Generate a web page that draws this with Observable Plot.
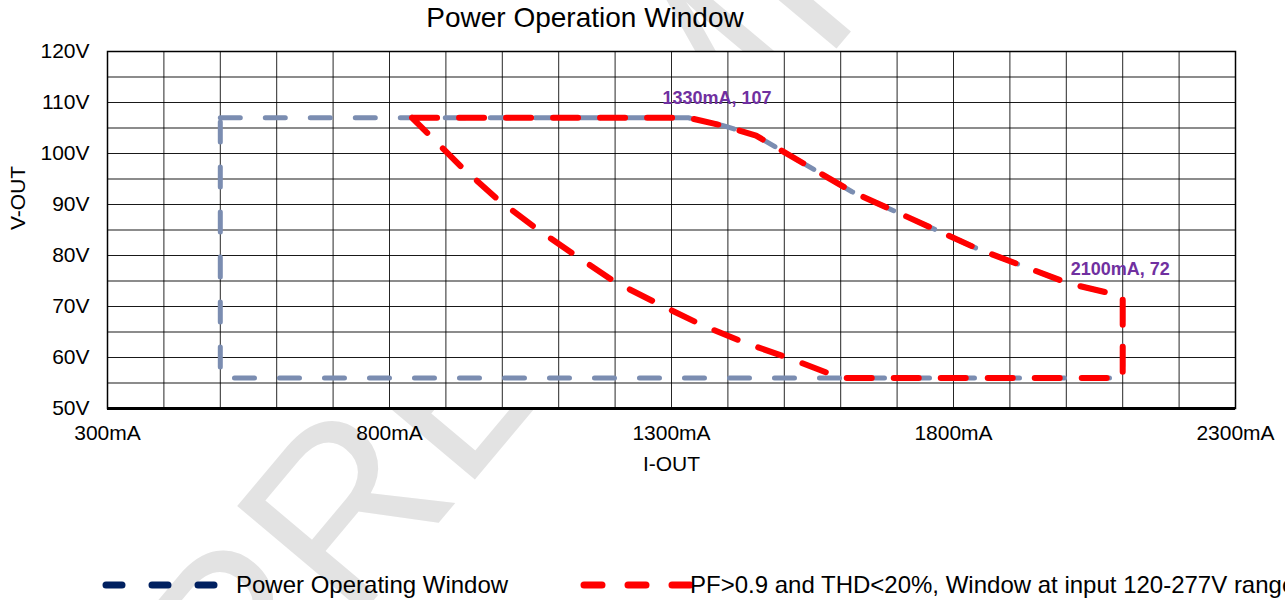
<!DOCTYPE html>
<html>
<head>
<meta charset="utf-8">
<script src="https://cdn.jsdelivr.net/npm/d3@7"></script>
<script src="https://cdn.jsdelivr.net/npm/@observablehq/plot@0.6"></script>
<style>
  html, body { margin: 0; padding: 0; background: #fff; }
  #wrap { position: relative; width: 1285px; height: 600px; overflow: hidden; background: #fff;
          font-family: "Liberation Sans", Arial, sans-serif; color: #000; }
  #wm { position: absolute; left: 0; top: 0; }
  #title { position: absolute; left: 0; top: 0; width: 1170px; text-align: center;
           font-size: 28px; line-height: 36px; }
  #chart { position: absolute; left: 0; top: 0; }
  #legend { position: absolute; left: 0; top: 568px; width: 1285px; height: 34px; white-space: nowrap; overflow: hidden; }
  #legend .sw { position: absolute; top: 0; }
  #legend .lt { position: absolute; top: 0; font-size: 24px; line-height: 34px; }
</style>
</head>
<body>
<div id="wrap">
  <svg id="wm" width="1285" height="600">
    <text id="wmtext" font-family="Liberation Sans, Arial, sans-serif" font-size="240" fill="#e3e3e3"
          transform="translate(248,750) rotate(-50)">PRELIMINARY</text>
  </svg>
  <div id="title">Power Operation Window</div>
  <div id="chart"></div>
  <div id="legend">
    <svg class="sw" style="left:0" width="260" height="34">
      <line x1="106" x2="214" y1="17" y2="17" stroke="#002060" stroke-width="7"
            stroke-linecap="round" stroke-dasharray="16,30"></line>
    </svg>
    <div class="lt" style="left:236px">Power Operating Window</div>
    <svg class="sw" style="left:0" width="700" height="34">
      <line x1="584" x2="690" y1="17" y2="17" stroke="#ff0000" stroke-width="7"
            stroke-linecap="round" stroke-dasharray="18,26"></line>
    </svg>
    <div class="lt" style="left:690px">PF&gt;0.9 and THD&lt;20%, Window at input 120-277V range</div>
  </div>
</div>
<script>
// ---- data ----
const currentTicks = [300, 800, 1300, 1800, 2300];          // mA
const voltageTicks = [50, 60, 70, 80, 90, 100, 110, 120];   // V
const gridCurrent = d3.range(300, 2301, 100);
const gridVoltage = d3.range(50, 121, 5);

// Power Operating Window (closed outline)
const pwCurrent = [500, 1330, 1390, 1450, 1620, 1845, 2005, 2100, 2100, 500, 500];
const pwVoltage = [107, 107, 105.5, 103.5, 92.5, 81.2, 74.5, 72, 56, 56, 107];

// PF>0.9 and THD<20% window
const pfCurrent = [840, 1330, 1390, 1450, 1620, 1845, 2005, 2100, 2100, 1600, 1510, 1430, 1355, 1275, 1200, 1130, 1060, 990, 930, 840];
const pfVoltage = [107, 107, 105.5, 103.5, 92.5, 81.2, 74.5, 72, 56, 56, 59.8, 62.9, 66.3, 70.6, 74.8, 80, 85.3, 91.2, 97.1, 107];

// data labels
const annCurrent = [1330, 2100];
const annVoltage = [107, 72];
const annText = ["1330mA, 107", "2100mA, 72"];
const annDx = [-26, -52];
const annDy = [-20, -27];

const pw = pwCurrent.map((c, i) => ({i: c, v: pwVoltage[i]}));
const pf = pfCurrent.map((c, i) => ({i: c, v: pfVoltage[i]}));
const ann = annCurrent.map((c, i) => ({i: c, v: annVoltage[i], t: annText[i], dx: annDx[i], dy: annDy[i]}));

const chart = Plot.plot({
  width: 1285,
  height: 480,
  marginLeft: 107,
  marginRight: 50,
  marginTop: 51,
  marginBottom: 72,
  x: {domain: [300, 2300]},
  y: {domain: [50, 120]},
  style: {fontFamily: "Liberation Sans, Arial, sans-serif", fontSize: "21px", color: "#000", background: "transparent", overflow: "visible"},
  marks: [
    Plot.frame({fill: "white"}),
    Plot.ruleX(gridCurrent, {stroke: "#000", strokeWidth: 1, strokeOpacity: 0.85}),
    Plot.ruleY(gridVoltage, {stroke: "#000", strokeWidth: 1, strokeOpacity: 0.9}),
    Plot.frame({stroke: "#000", strokeWidth: 1.5}),
    Plot.ruleY([50], {stroke: "#000", strokeWidth: 3}),
    Plot.line(pw, {x: "i", y: "v", stroke: "#7b8db1", strokeWidth: 5, strokeDasharray: "20,25", strokeLinecap: "round", strokeLinejoin: "round"}),
    Plot.line(pf, {x: "i", y: "v", stroke: "#ff0000", strokeWidth: 6, strokeDasharray: "25,22", strokeLinecap: "round", strokeLinejoin: "round"}),
    ...ann.map(a => Plot.text([a], {x: "i", y: "v", text: "t", dx: a.dx, dy: a.dy, textAnchor: "start",
      fill: "#7030a0", fontWeight: "bold", fontSize: 18})),
    Plot.axisX({ticks: currentTicks, tickFormat: d => d + "mA", tickSize: 0, tickPadding: 17, label: null, fontSize: 21}),
    Plot.axisY({ticks: voltageTicks, tickFormat: d => d + "V", tickSize: 0, tickPadding: 18, label: null, fontSize: 21}),
    Plot.text(["V-OUT"], {frameAnchor: "left", text: d => d, dx: -89, rotate: -90, fontSize: 21}),
    Plot.text(["I-OUT"], {frameAnchor: "bottom", text: d => d, dy: 62, fontSize: 21})
  ]
});
document.getElementById("chart").appendChild(chart);
</script>
</body>
</html>
